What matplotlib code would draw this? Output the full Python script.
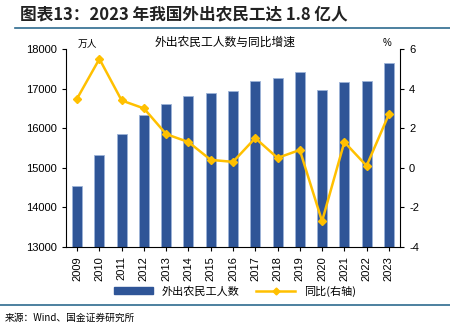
import matplotlib
matplotlib.use("Agg")
import matplotlib.pyplot as plt
from matplotlib.lines import Line2D

plt.rcParams['font.family'] = ['Liberation Sans', 'Noto Sans CJK SC', 'DejaVu Sans']
plt.rcParams['axes.unicode_minus'] = False

years = ["2009", "2010", "2011", "2012", "2013", "2014", "2015", "2016",
         "2017", "2018", "2019", "2020", "2021", "2022", "2023"]
workers = [14533, 15335, 15863, 16336, 16610, 16821, 16884, 16934,
           17185, 17266, 17425, 16959, 17172, 17190, 17658]
growth = [3.5, 5.5, 3.4, 3.0, 1.7, 1.3, 0.4, 0.3, 1.5, 0.5, 0.9, -2.7, 1.3, 0.1, 2.7]

bar_color = "#2F5597"
line_color = "#FFC000"
cjk = ['Noto Sans CJK SC', 'DejaVu Sans']

fig = plt.figure(figsize=(4.5, 3.29), dpi=100)
ax = fig.add_axes([66/450, 1-247/329, (400-66)/450, (247-49)/329])
x = list(range(len(years)))
ax.bar(x, workers, width=0.45, color=bar_color, edgecolor="#9DB3D8", linewidth=0.6, zorder=2)
ax.set_ylim(13000, 18000)
ax.set_yticks(range(13000, 18001, 1000))
ax.set_xlim(-0.5, 14.5)
ax.set_xticks(x)
ax.set_xticklabels(years, rotation=90, fontsize=8)
ax.tick_params(axis='y', labelsize=8, length=3, direction='out')
ax.tick_params(axis='x', length=3)
for s in ['top', 'right']:
    ax.spines[s].set_visible(False)

ax2 = ax.twinx()
ax2.plot(x, growth, color=line_color, marker='D', markersize=4.5, linewidth=1.8, zorder=3)
ax2.set_ylim(-4, 6)
ax2.set_yticks(range(-4, 7, 2))
ax2.tick_params(axis='y', labelsize=8, length=3)
for s in ['top', 'left', 'bottom']:
    ax2.spines[s].set_visible(False)

fig.text(78/450, 1-44/329, "万人", fontsize=7, family=cjk, va='center', ha='left')
fig.text(383/450, 1-43/329, "%", fontsize=7, va='center', ha='left')
fig.text(225/450, 1-42/329, "外出农民工人数与同比增速", fontsize=8.5, family=cjk, va='center', ha='center')

fig.text(20/450, 1-14/329, "图表13：2023 年我国外出农民工达 1.8 亿人", fontsize=12,
         family=cjk, fontweight='bold', style='italic', color='#222222', va='center', ha='left')
fig.add_artist(Line2D([15/450, 1], [1-28/329, 1-28/329], color="#2E6B8F", linewidth=1.2))
fig.add_artist(Line2D([0, 1], [1-305/329, 1-305/329], color="#2E6B8F", linewidth=1.2))
fig.text(5/450, 1-318/329, "来源：Wind、国金证券研究所", fontsize=7, family=cjk, va='center', ha='left')

handles = [plt.Rectangle((0, 0), 1, 1, color=bar_color),
           Line2D([0], [0], color=line_color, marker='D', markersize=3.5, linewidth=1.8)]
fig.legend(handles, ["外出农民工人数", "同比(右轴)"], loc='center', bbox_to_anchor=(235/450, 1-291/329),
           ncol=2, frameon=False, prop={'family': cjk, 'size': 8}, handlelength=3.5, columnspacing=1.5)

fig.savefig("out.png", dpi=100)
